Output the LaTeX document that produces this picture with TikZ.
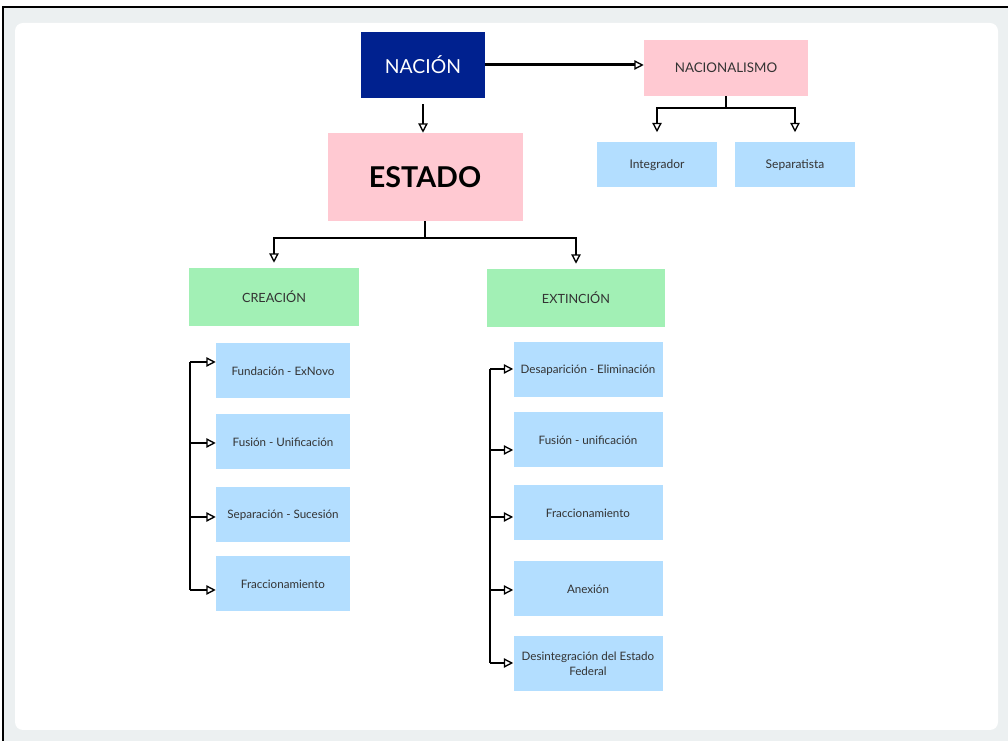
\documentclass[tikz,border=0pt]{standalone}
\usepackage{fontspec}
\setmainfont{Lato}
\usetikzlibrary{arrows.meta}
\definecolor{azul}{HTML}{00218F}
\definecolor{rosa}{HTML}{FFC9D2}
\definecolor{celeste}{HTML}{B3DEFF}
\definecolor{verde}{HTML}{A2F0B5}
\definecolor{fondo}{HTML}{ECF0F1}
\definecolor{letra}{HTML}{333333}
\tikzset{
  caja/.style={inner sep=0pt, text=letra, align=center, font=\fontsize{8.7}{11}\selectfont},
  hoja/.style={caja, fill=celeste},
  flecha/.style={line width=1.5pt, -{Triangle[open,length=7pt,width=7pt,line width=1pt]}},
  linea/.style={line width=1.5pt}
}

\begin{document}
\begin{tikzpicture}[x=0.75pt,y=-0.75pt]
  \useasboundingbox (0,0) rectangle (1008,741);
  \fill[fondo] (3,7) rectangle (1008,741);
  \draw[line width=1.5pt] (3,741) -- (3,7) -- (1008,7);
  \fill[white,rounded corners=6pt] (15,23) rectangle (998,730);

  % cabecera
  \node[caja,fill=azul,text=white,minimum width=93pt,minimum height=49.5pt,font=\fontsize{14.5}{16}\selectfont] (nacion) at (423,65) {NACIÓN};
  \node[caja,fill=rosa,minimum width=123pt,minimum height=42pt,font=\fontsize{10}{12}\selectfont] (nacionalismo) at (726,68) {NACIONALISMO};
  \node[caja,fill=rosa,text=black,minimum width=146.25pt,minimum height=66pt,font=\fontsize{21.5}{24}\selectfont\bfseries] (estado) at (425,177) {ESTADO};
  \node[hoja,minimum width=90pt,minimum height=33.75pt,font=\fontsize{9}{11}\selectfont] (integrador) at (657,165) {Integrador};
  \node[hoja,minimum width=90pt,minimum height=33.75pt,font=\fontsize{9}{11}\selectfont] (separatista) at (795,165) {Separatista};
  \node[caja,fill=verde,minimum width=127.5pt,minimum height=43.5pt,font=\fontsize{9.5}{11}\selectfont] (creacion) at (274,297) {CREACIÓN};
  \node[caja,fill=verde,minimum width=133.5pt,minimum height=43.5pt,font=\fontsize{9.5}{11}\selectfont] (extincion) at (576,298) {EXTINCIÓN};

  % formas de creacion y de extincion
  \foreach \n/\y/\t in {fund/371/Fundación - ExNovo, fusl/442/Fusión - Unificación,
                        sepa/515/Separación - Sucesión, fral/584/Fraccionamiento}
    \node[hoja,minimum width=100.5pt,minimum height=41.25pt] (\n) at (283,\y) {\t};
  \foreach \n/\y/\t in {desa/370/Desaparición - Eliminación, fusr/440/Fusión - unificación,
                        frar/513/Fraccionamiento, anex/589/Anexión,
                        desi/664/{Desintegración del Estado\\Federal}}
    \node[hoja,minimum width=111.75pt,minimum height=41.25pt] (\n) at (588,\y) {\t};

  \draw[flecha,line width=2.25pt] (nacion.east) -- (nacion.east -| nacionalismo.west);
  \draw[flecha,line width=1pt,shorten <=4.5pt] (nacion.south) -- (nacion.south |- estado.north);
  \draw[flecha,shorten >=7.5pt] (nacionalismo.south) -- ++(0,12) -| (integrador.north);
  \draw[flecha,shorten >=7.5pt] (nacionalismo.south) -- ++(0,12) -| (separatista.north);
  \draw[flecha,shorten >=3.75pt] (estado.south) -- ++(0,17) -| (creacion.north);
  \draw[flecha,shorten >=3.75pt] (estado.south) -- ++(0,17) -| (extincion.north);

  \coordinate (lx) at (190,0);
  \coordinate (rx) at (490,0);
  \foreach \n/\d in {fund/-9,fusl/1,sepa/2,fral/6,desa/-1,fusr/10,frar/4,anex/1,desi/-1}
    \coordinate (p\n) at ([shift={(0,\d)}]\n.west);
  \draw[linea] (lx |- pfund) -- (lx |- pfral);
  \draw[linea] (rx |- pdesa) -- (rx |- pdesi);
  \foreach \n in {fund,fusl,sepa,fral}
    \draw[flecha] (lx |- p\n) -- (p\n);
  \foreach \n in {desa,fusr,frar,anex,desi}
    \draw[flecha] (rx |- p\n) -- (p\n);
\end{tikzpicture}
\end{document}
